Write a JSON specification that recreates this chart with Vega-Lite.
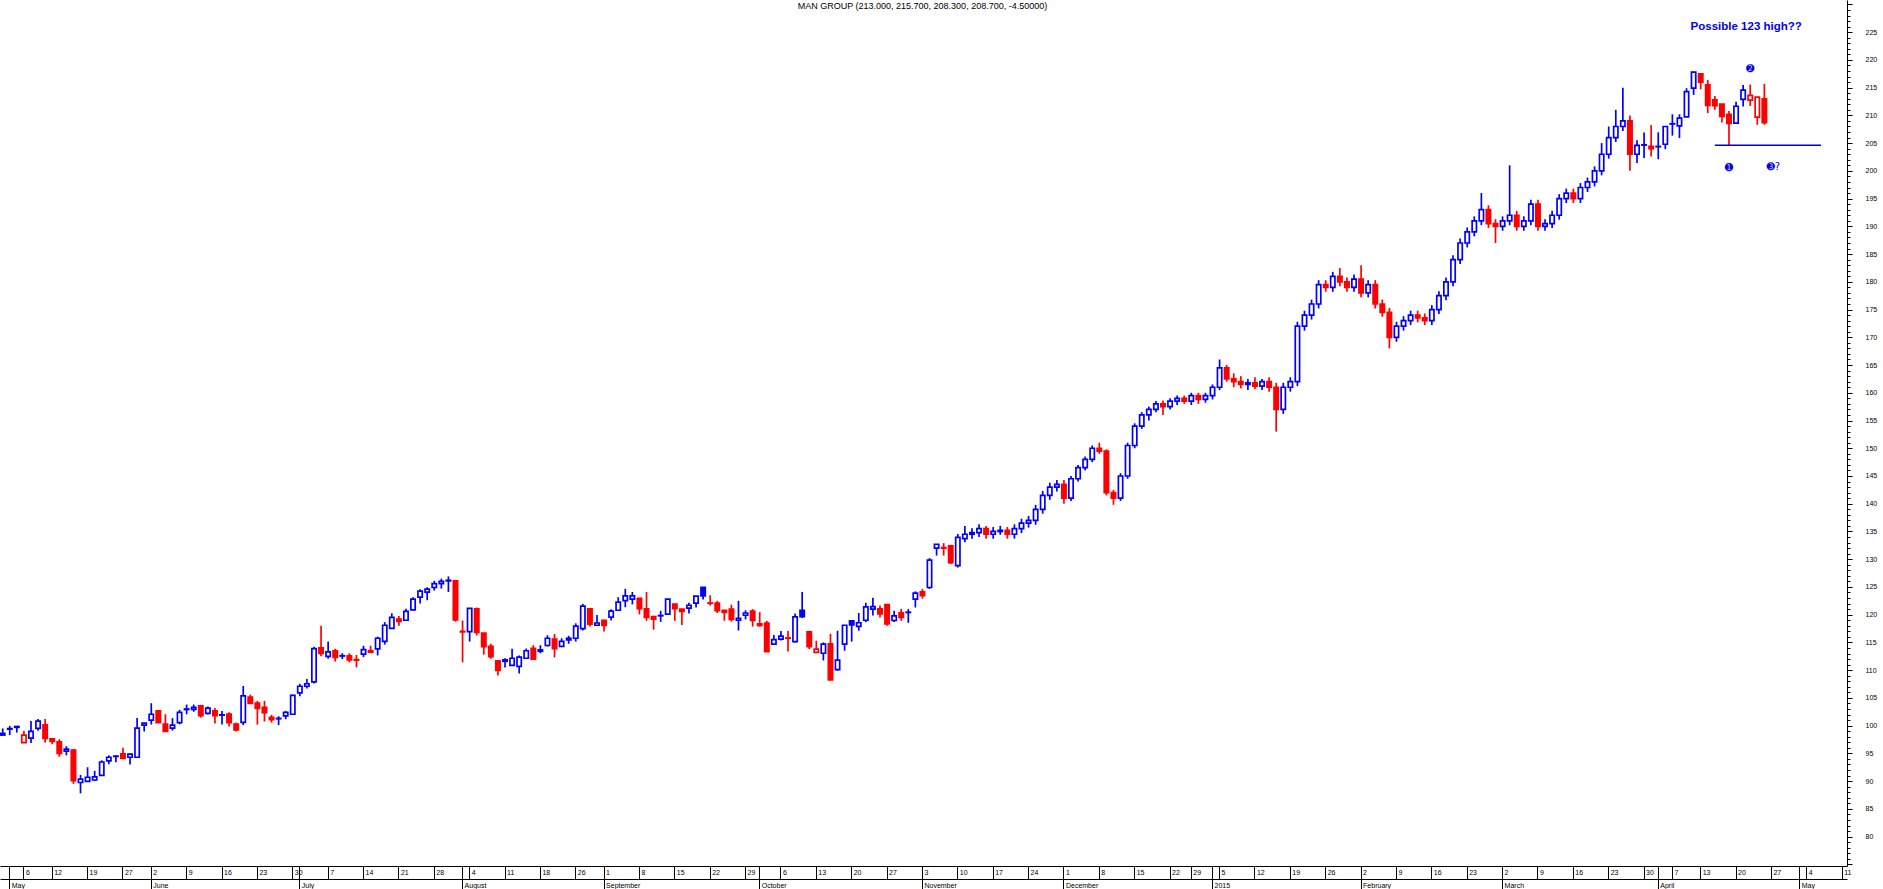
{
"$schema": "https://vega.github.io/schema/vega-lite/v6.json",
"width": 1847, "height": 866,
"autosize": "none",
"padding": {"left": 0, "top": 0, "right": 36, "bottom": 23},
"background": "white",
"config": {"view": {"stroke": null}, "axis": {"grid": false, "labelFont": "Liberation Sans", "labelFontSize": 7, "labelColor": "black", "tickColor": "black", "domainColor": "black", "domainWidth": 1, "tickWidth": 1, "title": null}},
"datasets": {
"candles": [
{"d":"2014-04-30","o":98.3,"h":99.5,"l":98.3,"c":98.6},
{"d":"2014-05-01","o":99.35,"h":99.95,"l":98.3,"c":99.45},
{"d":"2014-05-02","o":99.85,"h":99.9,"l":98.75,"c":99.7},
{"d":"2014-05-06","o":96.95,"h":99.05,"l":96.95,"c":98.3},
{"d":"2014-05-07","o":97.75,"h":100.85,"l":96.85,"c":98.95},
{"d":"2014-05-08","o":99.5,"h":101.2,"l":99.1,"c":100.8},
{"d":"2014-05-09","o":100.15,"h":101.2,"l":96.95,"c":97.7},
{"d":"2014-05-12","o":97.6,"h":97.6,"l":96.65,"c":97.15},
{"d":"2014-05-13","o":97.1,"h":97.55,"l":94.4,"c":95.0},
{"d":"2014-05-14","o":95.4,"h":96.3,"l":94.65,"c":95.75},
{"d":"2014-05-15","o":95.6,"h":95.8,"l":89.5,"c":90.1},
{"d":"2014-05-16","o":89.75,"h":91.1,"l":87.8,"c":90.35},
{"d":"2014-05-19","o":89.95,"h":92.5,"l":89.9,"c":90.7},
{"d":"2014-05-20","o":90.2,"h":91.85,"l":90.0,"c":90.75},
{"d":"2014-05-21","o":91.05,"h":93.75,"l":90.95,"c":93.45},
{"d":"2014-05-22","o":93.65,"h":94.65,"l":93.05,"c":94.3},
{"d":"2014-05-23","o":94.45,"h":94.65,"l":93.4,"c":94.5},
{"d":"2014-05-27","o":94.9,"h":96.0,"l":94.05,"c":94.1},
{"d":"2014-05-28","o":94.3,"h":95.0,"l":93.0,"c":94.85},
{"d":"2014-05-29","o":94.3,"h":101.4,"l":94.3,"c":99.55},
{"d":"2014-05-30","o":100.1,"h":100.45,"l":98.95,"c":100.45},
{"d":"2014-06-02","o":101.0,"h":104.05,"l":100.2,"c":102.05},
{"d":"2014-06-03","o":102.65,"h":102.65,"l":100.55,"c":100.55},
{"d":"2014-06-04","o":100.3,"h":102.05,"l":98.95,"c":98.95},
{"d":"2014-06-05","o":99.55,"h":101.35,"l":99.1,"c":100.1},
{"d":"2014-06-06","o":100.55,"h":102.85,"l":100.25,"c":102.4},
{"d":"2014-06-09","o":102.9,"h":103.8,"l":102.05,"c":103.0},
{"d":"2014-06-10","o":102.95,"h":103.8,"l":102.5,"c":103.3},
{"d":"2014-06-11","o":103.55,"h":103.75,"l":101.45,"c":101.8},
{"d":"2014-06-12","o":102.2,"h":103.45,"l":102.0,"c":103.15},
{"d":"2014-06-13","o":102.65,"h":103.2,"l":100.4,"c":101.8},
{"d":"2014-06-16","o":101.9,"h":102.65,"l":100.2,"c":101.95},
{"d":"2014-06-17","o":102.1,"h":102.4,"l":99.85,"c":100.55},
{"d":"2014-06-18","o":100.3,"h":100.55,"l":98.95,"c":99.25},
{"d":"2014-06-19","o":100.6,"h":107.15,"l":100.1,"c":105.35},
{"d":"2014-06-20","o":105.15,"h":105.6,"l":104.0,"c":104.0},
{"d":"2014-06-23","o":104.05,"h":104.45,"l":100.2,"c":103.1},
{"d":"2014-06-24","o":103.3,"h":104.45,"l":100.75,"c":102.35},
{"d":"2014-06-25","o":101.5,"h":101.95,"l":100.55,"c":101.1},
{"d":"2014-06-26","o":101.3,"h":101.7,"l":100.1,"c":101.25},
{"d":"2014-06-27","o":101.75,"h":102.65,"l":101.15,"c":102.4},
{"d":"2014-06-30","o":102.05,"h":105.6,"l":102.05,"c":105.45},
{"d":"2014-07-01","o":105.9,"h":107.55,"l":105.3,"c":107.1},
{"d":"2014-07-02","o":107.1,"h":108.4,"l":106.7,"c":107.55},
{"d":"2014-07-03","o":107.9,"h":114.2,"l":107.6,"c":113.9},
{"d":"2014-07-04","o":114.0,"h":118.0,"l":112.5,"c":113.0},
{"d":"2014-07-07","o":112.5,"h":115.15,"l":112.05,"c":113.3},
{"d":"2014-07-08","o":113.5,"h":113.85,"l":111.55,"c":112.3},
{"d":"2014-07-09","o":112.55,"h":113.05,"l":112.0,"c":112.6},
{"d":"2014-07-10","o":112.6,"h":113.05,"l":111.4,"c":111.85},
{"d":"2014-07-11","o":111.9,"h":112.75,"l":110.5,"c":111.8},
{"d":"2014-07-14","o":112.9,"h":114.4,"l":112.35,"c":113.7},
{"d":"2014-07-15","o":113.5,"h":114.4,"l":113.05,"c":113.25},
{"d":"2014-07-16","o":113.85,"h":116.05,"l":112.65,"c":115.75},
{"d":"2014-07-17","o":115.2,"h":118.65,"l":114.6,"c":118.1},
{"d":"2014-07-18","o":117.55,"h":120.25,"l":117.55,"c":119.5},
{"d":"2014-07-21","o":119.2,"h":119.75,"l":118.0,"c":118.8},
{"d":"2014-07-22","o":119.0,"h":121.05,"l":119.0,"c":120.6},
{"d":"2014-07-23","o":120.85,"h":123.15,"l":120.85,"c":122.8},
{"d":"2014-07-24","o":123.15,"h":124.6,"l":122.0,"c":124.25},
{"d":"2014-07-25","o":124.05,"h":124.95,"l":122.6,"c":124.6},
{"d":"2014-07-28","o":124.9,"h":126.1,"l":124.35,"c":125.6},
{"d":"2014-07-29","o":125.6,"h":126.5,"l":124.7,"c":126.0},
{"d":"2014-07-30","o":126.1,"h":126.9,"l":124.1,"c":126.2},
{"d":"2014-07-31","o":126.1,"h":126.1,"l":118.75,"c":119.05},
{"d":"2014-08-01","o":117.0,"h":118.95,"l":111.4,"c":116.9},
{"d":"2014-08-04","o":116.95,"h":121.15,"l":115.15,"c":121.15},
{"d":"2014-08-05","o":121.05,"h":121.3,"l":116.25,"c":116.8},
{"d":"2014-08-06","o":116.7,"h":116.7,"l":112.8,"c":114.25},
{"d":"2014-08-07","o":114.3,"h":114.75,"l":112.05,"c":112.45},
{"d":"2014-08-08","o":111.7,"h":111.7,"l":109.05,"c":109.95},
{"d":"2014-08-11","o":111.85,"h":112.15,"l":110.5,"c":111.6},
{"d":"2014-08-12","o":110.85,"h":113.85,"l":110.85,"c":112.15},
{"d":"2014-08-13","o":110.7,"h":112.65,"l":109.4,"c":112.35},
{"d":"2014-08-14","o":112.15,"h":113.9,"l":112.15,"c":113.5},
{"d":"2014-08-15","o":113.95,"h":114.5,"l":112.0,"c":112.0},
{"d":"2014-08-18","o":113.65,"h":114.5,"l":113.05,"c":113.4},
{"d":"2014-08-19","o":114.45,"h":116.3,"l":114.25,"c":115.75},
{"d":"2014-08-20","o":115.6,"h":116.5,"l":112.3,"c":113.9},
{"d":"2014-08-21","o":114.3,"h":115.75,"l":114.15,"c":115.2},
{"d":"2014-08-22","o":115.45,"h":116.2,"l":114.75,"c":115.75},
{"d":"2014-08-26","o":115.75,"h":118.45,"l":115.15,"c":117.95},
{"d":"2014-08-27","o":117.5,"h":121.95,"l":117.15,"c":121.55},
{"d":"2014-08-28","o":121.05,"h":121.05,"l":117.85,"c":118.3},
{"d":"2014-08-29","o":118.1,"h":119.95,"l":118.1,"c":118.5},
{"d":"2014-09-01","o":119.0,"h":119.0,"l":116.95,"c":118.05},
{"d":"2014-09-02","o":119.55,"h":121.0,"l":118.95,"c":120.65},
{"d":"2014-09-03","o":120.8,"h":123.15,"l":120.8,"c":122.25},
{"d":"2014-09-04","o":122.55,"h":124.65,"l":121.35,"c":123.4},
{"d":"2014-09-05","o":122.8,"h":124.1,"l":121.85,"c":123.4},
{"d":"2014-09-08","o":122.95,"h":122.95,"l":120.05,"c":121.1},
{"d":"2014-09-09","o":121.05,"h":124.1,"l":118.9,"c":119.5},
{"d":"2014-09-10","o":119.65,"h":119.8,"l":117.3,"c":119.2},
{"d":"2014-09-11","o":119.8,"h":120.7,"l":118.7,"c":119.85},
{"d":"2014-09-12","o":120.1,"h":122.8,"l":120.1,"c":122.8},
{"d":"2014-09-15","o":121.9,"h":121.9,"l":118.9,"c":121.1},
{"d":"2014-09-16","o":121.0,"h":121.0,"l":118.15,"c":120.6},
{"d":"2014-09-17","o":121.2,"h":122.15,"l":120.2,"c":121.7},
{"d":"2014-09-18","o":122.1,"h":123.35,"l":121.3,"c":123.35},
{"d":"2014-09-19","o":124.95,"h":124.95,"l":122.75,"c":123.4},
{"d":"2014-09-22","o":122.1,"h":123.5,"l":121.65,"c":122.05},
{"d":"2014-09-23","o":122.1,"h":122.5,"l":120.3,"c":120.75},
{"d":"2014-09-24","o":120.8,"h":120.8,"l":118.9,"c":120.4},
{"d":"2014-09-25","o":121.0,"h":121.8,"l":118.75,"c":119.15},
{"d":"2014-09-26","o":119.0,"h":122.5,"l":117.15,"c":119.35},
{"d":"2014-09-29","o":119.9,"h":120.8,"l":119.15,"c":120.3},
{"d":"2014-09-30","o":120.65,"h":121.0,"l":117.85,"c":118.95},
{"d":"2014-10-01","o":118.35,"h":120.45,"l":117.85,"c":118.05},
{"d":"2014-10-02","o":118.5,"h":118.9,"l":113.35,"c":113.35},
{"d":"2014-10-03","o":114.7,"h":116.35,"l":114.7,"c":115.5},
{"d":"2014-10-06","o":115.6,"h":117.05,"l":115.35,"c":116.15},
{"d":"2014-10-07","o":115.8,"h":117.05,"l":113.35,"c":115.75},
{"d":"2014-10-08","o":115.15,"h":120.2,"l":115.0,"c":119.6},
{"d":"2014-10-09","o":120.8,"h":124.1,"l":119.4,"c":119.65},
{"d":"2014-10-10","o":116.9,"h":117.1,"l":113.8,"c":114.25},
{"d":"2014-10-13","o":113.2,"h":115.3,"l":113.2,"c":113.8},
{"d":"2014-10-14","o":113.05,"h":115.0,"l":111.75,"c":114.7},
{"d":"2014-10-15","o":114.75,"h":116.55,"l":108.25,"c":108.25},
{"d":"2014-10-16","o":110.1,"h":117.1,"l":109.9,"c":111.8},
{"d":"2014-10-17","o":114.7,"h":118.1,"l":113.5,"c":118.1},
{"d":"2014-10-20","o":118.9,"h":118.9,"l":115.15,"c":118.15},
{"d":"2014-10-21","o":117.9,"h":120.3,"l":117.1,"c":118.55},
{"d":"2014-10-22","o":119.0,"h":122.15,"l":118.65,"c":121.4},
{"d":"2014-10-23","o":121.0,"h":123.05,"l":119.85,"c":121.45},
{"d":"2014-10-24","o":121.05,"h":121.65,"l":119.5,"c":120.15},
{"d":"2014-10-27","o":121.8,"h":121.8,"l":118.0,"c":118.35},
{"d":"2014-10-28","o":118.95,"h":120.7,"l":118.7,"c":119.8},
{"d":"2014-10-29","o":120.35,"h":121.05,"l":118.9,"c":119.5},
{"d":"2014-10-30","o":120.4,"h":121.0,"l":118.55,"c":120.45},
{"d":"2014-10-31","o":122.8,"h":124.2,"l":121.3,"c":123.9},
{"d":"2014-11-03","o":124.1,"h":124.65,"l":122.9,"c":123.45},
{"d":"2014-11-04","o":124.9,"h":130.2,"l":124.65,"c":129.85},
{"d":"2014-11-05","o":132.0,"h":132.7,"l":130.65,"c":132.7},
{"d":"2014-11-06","o":132.1,"h":132.9,"l":130.65,"c":132.0},
{"d":"2014-11-07","o":132.4,"h":132.6,"l":129.15,"c":129.4},
{"d":"2014-11-10","o":128.85,"h":134.55,"l":128.5,"c":133.95},
{"d":"2014-11-11","o":133.7,"h":136.0,"l":133.05,"c":134.5},
{"d":"2014-11-12","o":134.5,"h":135.6,"l":133.7,"c":134.8},
{"d":"2014-11-13","o":134.8,"h":136.3,"l":134.0,"c":135.5},
{"d":"2014-11-14","o":135.5,"h":136.0,"l":133.7,"c":134.5},
{"d":"2014-11-17","o":134.5,"h":135.8,"l":133.7,"c":135.0},
{"d":"2014-11-18","o":135.0,"h":136.0,"l":134.4,"c":135.2},
{"d":"2014-11-19","o":135.2,"h":135.8,"l":133.7,"c":134.5},
{"d":"2014-11-20","o":134.5,"h":136.3,"l":133.7,"c":135.5},
{"d":"2014-11-21","o":135.5,"h":137.3,"l":134.7,"c":136.5},
{"d":"2014-11-24","o":136.5,"h":137.8,"l":135.7,"c":137.0},
{"d":"2014-11-25","o":137.0,"h":139.8,"l":136.2,"c":139.0},
{"d":"2014-11-26","o":139.0,"h":142.3,"l":138.2,"c":141.5},
{"d":"2014-11-27","o":141.5,"h":143.8,"l":140.7,"c":143.0},
{"d":"2014-11-28","o":143.0,"h":144.3,"l":142.2,"c":143.5},
{"d":"2014-12-01","o":143.5,"h":144.3,"l":140.0,"c":141.0},
{"d":"2014-12-02","o":141.0,"h":145.0,"l":140.5,"c":144.5},
{"d":"2014-12-03","o":144.5,"h":147.0,"l":144.0,"c":146.5},
{"d":"2014-12-04","o":146.5,"h":148.5,"l":146.0,"c":148.0},
{"d":"2014-12-05","o":148.0,"h":150.5,"l":147.5,"c":150.0},
{"d":"2014-12-08","o":150.0,"h":151.0,"l":149.0,"c":149.5},
{"d":"2014-12-09","o":149.5,"h":149.8,"l":141.5,"c":142.0},
{"d":"2014-12-10","o":142.0,"h":142.5,"l":139.8,"c":141.0},
{"d":"2014-12-11","o":141.0,"h":145.5,"l":140.5,"c":145.0},
{"d":"2014-12-12","o":145.0,"h":151.0,"l":144.5,"c":150.5},
{"d":"2014-12-15","o":150.5,"h":154.5,"l":150.0,"c":154.0},
{"d":"2014-12-16","o":154.0,"h":156.5,"l":153.5,"c":156.0},
{"d":"2014-12-17","o":156.0,"h":157.5,"l":155.0,"c":157.0},
{"d":"2014-12-18","o":157.0,"h":158.5,"l":156.5,"c":158.0},
{"d":"2014-12-19","o":158.0,"h":158.6,"l":156.0,"c":157.5},
{"d":"2014-12-22","o":157.5,"h":159.0,"l":157.0,"c":158.5},
{"d":"2014-12-23","o":158.5,"h":159.5,"l":157.8,"c":159.0},
{"d":"2014-12-24","o":159.0,"h":159.5,"l":158.0,"c":158.5},
{"d":"2014-12-29","o":158.5,"h":160.0,"l":157.8,"c":159.5},
{"d":"2014-12-30","o":159.5,"h":160.0,"l":158.0,"c":158.8},
{"d":"2014-12-31","o":158.8,"h":160.0,"l":158.2,"c":159.5},
{"d":"2015-01-02","o":159.5,"h":161.5,"l":158.8,"c":161.0},
{"d":"2015-01-05","o":161.0,"h":166.0,"l":160.5,"c":164.5},
{"d":"2015-01-06","o":164.5,"h":165.0,"l":162.0,"c":162.5},
{"d":"2015-01-07","o":162.5,"h":163.5,"l":161.0,"c":162.0},
{"d":"2015-01-08","o":162.0,"h":163.0,"l":160.8,"c":161.5},
{"d":"2015-01-09","o":161.5,"h":162.5,"l":160.5,"c":161.8},
{"d":"2015-01-12","o":161.8,"h":162.8,"l":160.7,"c":161.2},
{"d":"2015-01-13","o":161.2,"h":162.5,"l":160.5,"c":162.0},
{"d":"2015-01-14","o":162.0,"h":162.8,"l":160.2,"c":161.0},
{"d":"2015-01-15","o":161.0,"h":161.8,"l":153.0,"c":157.0},
{"d":"2015-01-16","o":157.0,"h":161.8,"l":156.2,"c":161.0},
{"d":"2015-01-19","o":161.0,"h":162.8,"l":160.2,"c":162.0},
{"d":"2015-01-20","o":162.0,"h":172.8,"l":161.2,"c":172.0},
{"d":"2015-01-21","o":172.0,"h":174.8,"l":171.2,"c":174.0},
{"d":"2015-01-22","o":174.0,"h":176.8,"l":173.2,"c":176.0},
{"d":"2015-01-23","o":176.0,"h":180.3,"l":175.2,"c":179.5},
{"d":"2015-01-26","o":179.5,"h":180.3,"l":178.2,"c":179.0},
{"d":"2015-01-27","o":179.0,"h":181.8,"l":178.2,"c":181.0},
{"d":"2015-01-28","o":181.0,"h":182.5,"l":179.2,"c":180.0},
{"d":"2015-01-29","o":180.0,"h":180.8,"l":178.2,"c":179.0},
{"d":"2015-01-30","o":179.0,"h":181.3,"l":178.2,"c":180.5},
{"d":"2015-02-02","o":180.5,"h":183.0,"l":177.2,"c":178.0},
{"d":"2015-02-03","o":178.0,"h":180.3,"l":177.2,"c":179.5},
{"d":"2015-02-04","o":179.5,"h":180.3,"l":175.2,"c":176.0},
{"d":"2015-02-05","o":176.0,"h":176.8,"l":173.7,"c":174.5},
{"d":"2015-02-06","o":174.5,"h":175.3,"l":168.0,"c":170.0},
{"d":"2015-02-09","o":170.0,"h":172.8,"l":169.2,"c":172.0},
{"d":"2015-02-10","o":172.0,"h":173.8,"l":171.2,"c":173.0},
{"d":"2015-02-11","o":173.0,"h":174.8,"l":172.2,"c":174.0},
{"d":"2015-02-12","o":174.0,"h":174.8,"l":172.7,"c":173.5},
{"d":"2015-02-13","o":173.5,"h":174.3,"l":172.2,"c":173.0},
{"d":"2015-02-16","o":173.0,"h":175.8,"l":172.2,"c":175.0},
{"d":"2015-02-17","o":175.0,"h":178.3,"l":174.2,"c":177.5},
{"d":"2015-02-18","o":177.5,"h":180.8,"l":176.7,"c":180.0},
{"d":"2015-02-19","o":180.0,"h":184.8,"l":179.2,"c":184.0},
{"d":"2015-02-20","o":184.0,"h":187.8,"l":183.2,"c":187.0},
{"d":"2015-02-23","o":187.0,"h":189.8,"l":186.2,"c":189.0},
{"d":"2015-02-24","o":189.0,"h":191.8,"l":188.2,"c":191.0},
{"d":"2015-02-25","o":191.0,"h":196.0,"l":190.2,"c":193.0},
{"d":"2015-02-26","o":193.0,"h":193.8,"l":189.7,"c":190.5},
{"d":"2015-02-27","o":190.5,"h":191.3,"l":187.0,"c":190.0},
{"d":"2015-03-02","o":190.0,"h":191.8,"l":189.2,"c":191.0},
{"d":"2015-03-03","o":191.0,"h":201.0,"l":190.2,"c":192.0},
{"d":"2015-03-04","o":192.0,"h":192.8,"l":189.2,"c":190.0},
{"d":"2015-03-05","o":190.0,"h":191.8,"l":189.2,"c":191.0},
{"d":"2015-03-06","o":191.0,"h":194.8,"l":190.2,"c":194.0},
{"d":"2015-03-09","o":194.0,"h":194.8,"l":189.2,"c":190.0},
{"d":"2015-03-10","o":190.0,"h":191.3,"l":189.2,"c":190.5},
{"d":"2015-03-11","o":190.5,"h":192.8,"l":189.7,"c":192.0},
{"d":"2015-03-12","o":192.0,"h":195.8,"l":191.2,"c":195.0},
{"d":"2015-03-13","o":195.0,"h":196.8,"l":194.2,"c":196.0},
{"d":"2015-03-16","o":196.0,"h":196.8,"l":194.2,"c":195.0},
{"d":"2015-03-17","o":195.0,"h":197.8,"l":194.2,"c":197.0},
{"d":"2015-03-18","o":197.0,"h":198.8,"l":196.2,"c":198.0},
{"d":"2015-03-19","o":198.0,"h":200.8,"l":197.2,"c":200.0},
{"d":"2015-03-20","o":200.0,"h":205.0,"l":199.2,"c":203.0},
{"d":"2015-03-23","o":203.0,"h":208.0,"l":202.2,"c":206.0},
{"d":"2015-03-24","o":206.0,"h":211.0,"l":205.2,"c":208.0},
{"d":"2015-03-25","o":208.0,"h":215.0,"l":207.2,"c":209.0},
{"d":"2015-03-26","o":209.0,"h":210.0,"l":200.0,"c":203.0},
{"d":"2015-03-27","o":203.0,"h":205.5,"l":201.4,"c":204.6},
{"d":"2015-03-30","o":204.65,"h":206.9,"l":202.3,"c":204.7},
{"d":"2015-03-31","o":204.4,"h":208.25,"l":202.6,"c":204.0},
{"d":"2015-04-01","o":204.35,"h":206.95,"l":202.1,"c":204.4},
{"d":"2015-04-02","o":204.8,"h":208.0,"l":203.9,"c":208.0},
{"d":"2015-04-07","o":208.45,"h":210.2,"l":206.35,"c":208.5},
{"d":"2015-04-08","o":208.1,"h":210.2,"l":205.9,"c":209.5},
{"d":"2015-04-09","o":209.75,"h":214.9,"l":209.75,"c":214.3},
{"d":"2015-04-10","o":214.9,"h":217.9,"l":213.7,"c":217.8},
{"d":"2015-04-13","o":217.5,"h":217.5,"l":214.7,"c":216.0},
{"d":"2015-04-14","o":215.5,"h":216.4,"l":210.4,"c":211.8},
{"d":"2015-04-15","o":212.8,"h":213.5,"l":211.0,"c":211.75},
{"d":"2015-04-16","o":212.05,"h":212.05,"l":208.7,"c":209.8},
{"d":"2015-04-17","o":210.2,"h":210.8,"l":204.5,"c":208.55},
{"d":"2015-04-20","o":208.6,"h":212.45,"l":208.6,"c":211.65},
{"d":"2015-04-21","o":212.9,"h":215.5,"l":211.6,"c":214.55},
{"d":"2015-04-22","o":212.75,"h":215.55,"l":211.7,"c":213.6},
{"d":"2015-04-23","o":209.7,"h":213.3,"l":208.3,"c":213.3},
{"d":"2015-04-24","o":213.0,"h":215.7,"l":208.3,"c":208.7}
],
"notes": [
{"d":"2015-04-22","p":218.3,"t":"➋"},
{"d":"2015-04-17","p":200.5,"t":"➊"}
],
"notes3": [
{"d":"2015-04-27","p":200.7,"t":"➌?"}
],
"headline": [
{"d":"2015-04-22","p":225.4,"t":"Possible 123 high??"}
],
"heading": [
{"d":"2014-11-03","p":229.75,"t":"MAN GROUP (213.000, 215.700, 208.300, 208.700, -4.50000)"}
],
"support": [
{"d":"2015-04-15","d2":"2015-05-06","p":204.6}
]
},
"data": {"name": "candles"},
"transform": [{"window": [{"op": "lag", "field": "c", "as": "pc"}], "sort": [{"field": "d"}]}],
"resolve": {"axis": {"x": "independent", "y": "independent"}},
"layer": [
{
"mark": {"type": "rule", "strokeWidth": 1.7},
"encoding": {
"x": {"field": "d", "type": "ordinal",
 "scale": {"type": "band", "paddingInner": 0.24, "paddingOuter": 0.15, "align": 0, "round": false,
  "domain": {"unionWith": ["2015-04-27","2015-04-28","2015-04-29","2015-04-30","2015-05-01","2015-05-04","2015-05-05","2015-05-06","2015-05-07","2015-05-08","2015-05-11"]}},
 "axis": {"orient": "bottom", "bandPosition": 0.5, "tickSize": 13, "labelPadding": -11, "labelAlign": "left", "labelBaseline": "top", "labelOffset": 2, "labelAngle": 0, "labelOverlap": false, "labelBound": false, "labelFlush": false,
  "values": ["2014-05-01","2014-05-06","2014-05-12","2014-05-19","2014-05-27","2014-06-02","2014-06-09","2014-06-16","2014-06-23","2014-06-30","2014-07-01","2014-07-07","2014-07-14","2014-07-21","2014-07-28","2014-08-01","2014-08-04","2014-08-11","2014-08-18","2014-08-26","2014-09-01","2014-09-08","2014-09-15","2014-09-22","2014-09-29","2014-10-01","2014-10-06","2014-10-13","2014-10-20","2014-10-27","2014-11-03","2014-11-10","2014-11-17","2014-11-24","2014-12-01","2014-12-08","2014-12-15","2014-12-22","2014-12-29","2015-01-02","2015-01-05","2015-01-12","2015-01-19","2015-01-26","2015-02-02","2015-02-09","2015-02-16","2015-02-23","2015-03-02","2015-03-09","2015-03-16","2015-03-23","2015-03-30","2015-04-01","2015-04-07","2015-04-13","2015-04-20","2015-04-27","2015-05-01","2015-05-04","2015-05-11"],
  "labelExpr": "indexof(['2014-05-01','2014-07-01','2014-08-01','2014-10-01','2015-01-02','2015-04-01','2015-05-01'], datum.value) >= 0 ? '' : '' + toNumber(substring(datum.value, 8, 10))"}},
"y": {"field": "l", "type": "quantitative",
 "scale": {"domain": [74.7, 230.8], "nice": false, "zero": false},
 "axis": {"orient": "right", "tickSize": 3, "labels": false, "domain": true,
  "values": [75,76,77,78,79,80,81,82,83,84,85,86,87,88,89,90,91,92,93,94,95,96,97,98,99,100,101,102,103,104,105,106,107,108,109,110,111,112,113,114,115,116,117,118,119,120,121,122,123,124,125,126,127,128,129,130,131,132,133,134,135,136,137,138,139,140,141,142,143,144,145,146,147,148,149,150,151,152,153,154,155,156,157,158,159,160,161,162,163,164,165,166,167,168,169,170,171,172,173,174,175,176,177,178,179,180,181,182,183,184,185,186,187,188,189,190,191,192,193,194,195,196,197,198,199,200,201,202,203,204,205,206,207,208,209,210,211,212,213,214,215,216,217,218,219,220,221,222,223,224,225,226,227,228,229,230]}},
"y2": {"field": "h"},
"color": {"condition": {"test": "datum.pc != null && datum.c < datum.pc", "value": "#FF0000"}, "value": "#0000FF"}
}
},
{
"mark": {"type": "bar", "strokeWidth": 1.7, "width": {"band": 0.8}},
"encoding": {
"x": {"field": "d", "type": "ordinal",
 "axis": {"orient": "bottom", "offset": 13, "bandPosition": 0.5, "tickSize": 10, "labelPadding": -8, "labelAlign": "left", "labelBaseline": "top", "labelOffset": 2, "labelAngle": 0, "labelOverlap": false, "labelBound": false, "labelFlush": false,
  "values": ["2014-05-01","2014-06-02","2014-07-01","2014-08-01","2014-09-01","2014-10-01","2014-11-03","2014-12-01","2015-01-02","2015-02-02","2015-03-02","2015-04-01","2015-05-01"],
  "labelExpr": "['','2015','February','March','April','May','June','July','August','September','October','November','December'][toNumber(substring(datum.value, 5, 7))]"}},
"y": {"field": "o", "type": "quantitative",
 "axis": {"orient": "right", "tickSize": 5, "labelPadding": 13, "domain": false, "labelOverlap": false, "labelBound": false, "labelFlush": false,
  "values": [75,80,85,90,95,100,105,110,115,120,125,130,135,140,145,150,155,160,165,170,175,180,185,190,195,200,205,210,215,220,225,230],
  "labelExpr": "datum.value >= 80 && datum.value <= 225 ? datum.label : ''"}},
"y2": {"field": "c"},
"stroke": {"condition": {"test": "datum.pc != null && datum.c < datum.pc", "value": "#FF0000"}, "value": "#0000FF"},
"fill": {"condition": [
  {"test": "datum.c < datum.o && datum.pc != null && datum.c < datum.pc", "value": "#FF0000"},
  {"test": "datum.c < datum.o", "value": "#0000FF"}], "value": "#FFFFFF"}
}
},
{
"data": {"name": "support"},
"mark": {"type": "rule", "color": "#0000CC", "strokeWidth": 1.5},
"encoding": {
"x": {"field": "d", "type": "ordinal", "axis": null},
"x2": {"field": "d2"},
"y": {"field": "p", "type": "quantitative", "axis": null}
}
},
{
"data": {"name": "heading"},
"mark": {"type": "text", "font": "Liberation Sans", "fontSize": 9, "color": "#000000", "align": "center", "baseline": "middle"},
"encoding": {
"x": {"field": "d", "type": "ordinal", "axis": null},
"y": {"field": "p", "type": "quantitative", "axis": null},
"text": {"field": "t"}
}
},
{
"data": {"name": "headline"},
"mark": {"type": "text", "font": "Liberation Sans", "fontSize": 11.5, "fontWeight": "bold", "color": "#0000EE", "align": "center", "baseline": "alphabetic", "dx": -4},
"encoding": {
"x": {"field": "d", "type": "ordinal", "axis": null},
"y": {"field": "p", "type": "quantitative", "axis": null},
"text": {"field": "t"}
}
},
{
"data": {"name": "notes"},
"mark": {"type": "text", "font": "DejaVu Sans", "fontSize": 10, "color": "#0000EE", "align": "center", "baseline": "middle"},
"encoding": {
"x": {"field": "d", "type": "ordinal", "axis": null},
"y": {"field": "p", "type": "quantitative", "axis": null},
"text": {"field": "t"}
}
},
{
"data": {"name": "notes3"},
"mark": {"type": "text", "font": "DejaVu Sans", "fontSize": 10, "color": "#0000EE", "align": "left", "baseline": "middle", "dx": -5},
"encoding": {
"x": {"field": "d", "type": "ordinal", "axis": null},
"y": {"field": "p", "type": "quantitative", "axis": null},
"text": {"field": "t"}
}
}
]
}
